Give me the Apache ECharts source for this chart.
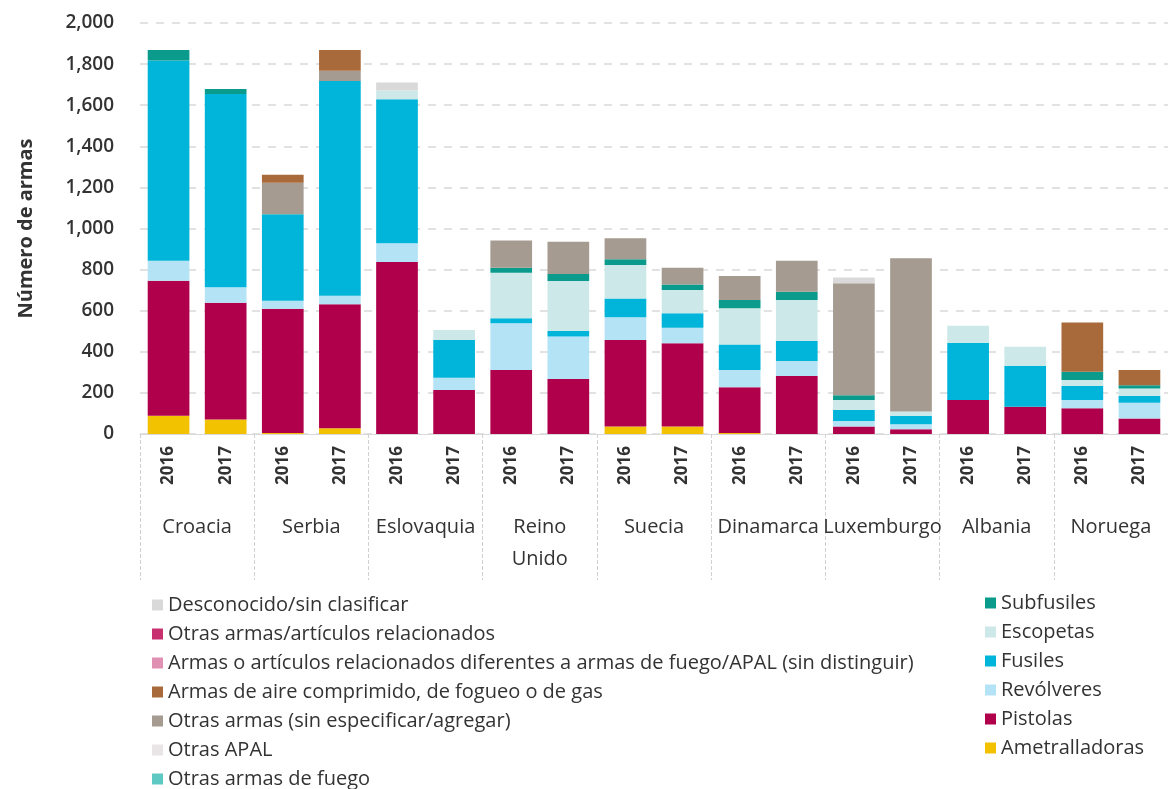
<!DOCTYPE html>
<html>
<head>
<meta charset="utf-8">
<script src="https://cdn.jsdelivr.net/npm/echarts@6/dist/echarts.min.js"></script>
<style>html,body{margin:0;padding:0;background:#fff}#c{width:1168px;height:789px}</style>
</head>
<body>
<div id="c"></div>
<script>
const years = ['2016','2017','2016','2017','2016','2017','2016','2017','2016','2017','2016','2017','2016','2017','2016','2017','2016','2017'];
const countries = ['Croacia','Serbia','Eslovaquia','Reino\nUnido','Suecia','Dinamarca','Luxemburgo','Albania','Noruega'];
const yTicks = [0,200,400,600,800,1000,1200,1400,1600,1800,2000];

const ametralladoras = [89,71,5,28,0,0,0,0,36,36,5,0,0,0,0,0,0,0];
const pistolas       = [657,568,605,603,837,214,311,268,421,405,222,282,36,23,165,133,125,76];
const revolveres     = [97,75,39,42,91,60,228,206,111,76,84,73,27,24,0,0,40,76];
const fusiles        = [974,940,420,1045,701,183,24,27,91,70,124,98,54,42,279,198,69,34];
const escopetas      = [0,0,0,0,42,49,222,244,163,114,177,199,48,20,83,94,29,36];
const subfusiles     = [52,25,0,0,0,0,24,34,28,26,40,40,23,0,0,0,40,15];
const otrasFuego     = [0,0,0,0,0,0,0,0,0,0,0,0,0,0,0,0,0,0];
const otrasAPAL      = [0,0,0,0,0,0,0,0,0,0,0,0,0,0,0,0,0,0];
const otrasArmas     = [0,0,154,50,0,0,132,157,102,82,117,151,545,746,0,0,0,0];
const aire           = [0,0,39,101,0,0,0,0,0,0,0,0,0,0,0,0,239,74];
const diferentes     = [0,0,0,0,0,0,0,0,0,0,0,0,0,0,0,0,0,0];
const otrasArticulos = [0,0,0,0,0,0,0,0,0,0,0,0,0,0,0,0,0,0];
const desconocido    = [0,0,0,0,40,0,0,0,0,0,0,0,29,0,0,0,0,0];

const seriesDefs = [
  ['Ametralladoras', ametralladoras, '#f2c100'],
  ['Pistolas', pistolas, '#b0004b'],
  ['Revólveres', revolveres, '#b5e3f6'],
  ['Fusiles', fusiles, '#00b5d9'],
  ['Escopetas', escopetas, '#cce8e8'],
  ['Subfusiles', subfusiles, '#0b9b8d'],
  ['Otras armas de fuego', otrasFuego, '#5ec8c2'],
  ['Otras APAL', otrasAPAL, '#e9e4e6'],
  ['Otras armas (sin especificar/agregar)', otrasArmas, '#a59b91'],
  ['Armas de aire comprimido, de fogueo o de gas', aire, '#a86a3b'],
  ['Armas o artículos relacionados diferentes a armas de fuego/APAL (sin distinguir)', diferentes, '#e090b2'],
  ['Otras armas/artículos relacionados', otrasArticulos, '#c8316f'],
  ['Desconocido/sin clasificar', desconocido, '#d9d9d9']
];

const FONT = '"Open Sans", sans-serif';
const legendText = { fontFamily: FONT, fontSize: 20, color: '#333', lineHeight: 20 };
const chart = echarts.init(document.getElementById('c'));
chart.setOption({
  animation: false,
  textStyle: { fontFamily: FONT },
  grid: { left: 140, top: 23, width: 1035, height: 411, containLabel: false },
  legend: [
    {
      orient: 'vertical', left: 152, top: 595, height: 215, padding: 0, itemGap: 9, itemWidth: 11, itemHeight: 11, icon: 'rect',
      textStyle: legendText,
      data: ['Desconocido/sin clasificar','Otras armas/artículos relacionados','Armas o artículos relacionados diferentes a armas de fuego/APAL (sin distinguir)','Armas de aire comprimido, de fogueo o de gas','Otras armas (sin especificar/agregar)','Otras APAL','Otras armas de fuego']
    },
    {
      orient: 'vertical', left: 985, top: 593, height: 200, padding: 0, itemGap: 9, itemWidth: 11, itemHeight: 11, icon: 'rect',
      textStyle: legendText,
      data: ['Subfusiles','Escopetas','Fusiles','Revólveres','Pistolas','Ametralladoras']
    }
  ],
  xAxis: [
    {
      type: 'category', data: years, position: 'bottom',
      axisLine: { show: true, lineStyle: { color: '#d9d9d9' } },
      axisTick: { show: false },
      axisLabel: { rotate: 90, margin: 12, fontFamily: FONT, fontSize: 17, fontWeight: 'bold', color: '#333', interval: 0 }
    },
    {
      type: 'category', data: countries, position: 'bottom',
      axisLine: { show: false },
      axisTick: { show: true, length: 146, interval: 0, lineStyle: { color: '#d0d0d0', type: 'dashed' } },
      axisLabel: { margin: 77, fontFamily: FONT, fontSize: 20, color: '#333', interval: 0, lineHeight: 32, verticalAlign: 'top' }
    }
  ],
  yAxis: {
    type: 'value', min: yTicks[0], max: yTicks[yTicks.length - 1], interval: 200,
    name: 'Número de armas', nameLocation: 'middle', nameGap: 104,
    nameTextStyle: { fontFamily: FONT, fontSize: 20, fontWeight: 'bold', color: '#333' },
    axisLine: { show: false }, axisTick: { show: false },
    axisLabel: { margin: 26, fontFamily: FONT, fontSize: 19, fontWeight: 600, color: '#333',
      formatter: v => v.toLocaleString('en-US') },
    splitLine: { show: true, lineStyle: { color: '#d9d9d9', type: [8, 8], width: 1.5 } }
  },
  series: seriesDefs.map(([name, data, color]) => ({
    name, type: 'bar', stack: 'total', data, xAxisIndex: 0,
    barCategoryGap: '27%', itemStyle: { color }
  }))
});
</script>
</body>
</html>
